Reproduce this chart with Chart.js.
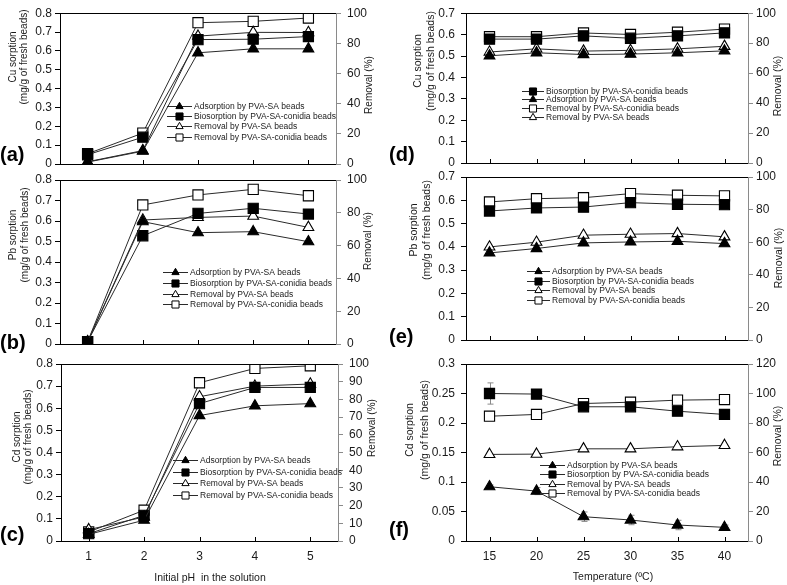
<!DOCTYPE html>
<html><head><meta charset="utf-8">
<script src="https://cdn.jsdelivr.net/npm/chart.js@4/dist/chart.umd.min.js"></script>
<style>
html,body{margin:0;padding:0;background:#fff;}
#wrap{position:relative;width:787px;height:585px;overflow:hidden;background:#fff;}
#wrap canvas{position:absolute;left:0;top:0;}
</style></head><body><div id="wrap">
<canvas id="pa" width="787" height="585"></canvas>
<canvas id="pb" width="787" height="585"></canvas>
<canvas id="pc" width="787" height="585"></canvas>
<canvas id="pd" width="787" height="585"></canvas>
<canvas id="pe" width="787" height="585"></canvas>
<canvas id="pf" width="787" height="585"></canvas>
</div>
<script>
// ---- categories ----
const pHLabels = ['1','2','3','4','5'];
const tempLabels = ['15','20','25','30','35','40'];

// ---- (a) Cu vs pH ----
const cuPhAds    = [0.010, 0.068, 0.590, 0.611, 0.611];
const cuPhBio    = [0.049, 0.142, 0.660, 0.662, 0.676];
const cuPhRemSA  = [1.5, 8.9, 84.8, 87.3, 87.2];
const cuPhRemCon = [6.8, 20.5, 93.7, 94.6, 96.8];

// ---- (b) Pb vs pH ----
const pbPhAds    = [0.011, 0.597, 0.543, 0.548, 0.499];
const pbPhBio    = [0.011, 0.528, 0.637, 0.662, 0.634];
const pbPhRemSA  = [1.4, 75.6, 77.2, 78.0, 71.1];
const pbPhRemCon = [1.4, 84.8, 90.9, 94.3, 90.4];
const pbPhRemConErr = [0, 1.0, 1.0, 1.2, 1.0];

// ---- (c) Cd vs pH ----
const cdPhAds    = [0.030, 0.094, 0.567, 0.611, 0.621];
const cdPhBio    = [0.033, 0.116, 0.621, 0.694, 0.694];
const cdPhRemSA  = [6.4, 13.6, 81.5, 87.5, 88.7];
const cdPhRemCon = [5.1, 17.4, 89.4, 97.5, 99.0];

// ---- (d) Cu vs temperature ----
const cuTBio    = [0.579, 0.579, 0.594, 0.583, 0.594, 0.608];
const cuTAds    = [0.501, 0.515, 0.507, 0.509, 0.515, 0.524];
const cuTRemCon = [84.3, 84.3, 86.8, 85.8, 87.3, 89.4];
const cuTRemSA  = [74.1, 76.2, 74.7, 75.2, 76.2, 77.9];

// ---- (e) Pb vs temperature ----
const pbTAds    = [0.374, 0.393, 0.417, 0.421, 0.424, 0.414];
const pbTBio    = [0.554, 0.567, 0.571, 0.590, 0.583, 0.581];
const pbTRemSA  = [57.1, 60.0, 64.3, 64.9, 65.3, 63.3];
const pbTRemCon = [84.7, 86.7, 87.3, 89.8, 88.8, 88.4];

// ---- (f) Cd vs temperature ----
const cdTAds    = [0.092, 0.0846, 0.0412, 0.0356, 0.0271, 0.0231];
const cdTBio    = [0.250, 0.249, 0.2275, 0.2275, 0.220, 0.2145];
const cdTRemSA  = [58.7, 58.9, 62.5, 62.5, 63.9, 64.8];
const cdTRemCon = [84.6, 85.8, 93.2, 94.1, 95.5, 95.9];
const cdTAdsErr = [0.003, 0.006, 0.008, 0.008, 0.008, 0.004];
const cdTBioErr = [0.018, 0, 0, 0, 0, 0];

// ---- text ----
const xTitlePH = 'Initial pH  in the solution';
const xTitleT = 'Temperature (ºC)';
const rightTitle = 'Removal (%)';
const unitLine = '(mg/g of fresh beads)';

const FONT = "'Liberation Sans', Arial, Helvetica, sans-serif";
const LINE = '#2a2a2a';
const GRAY = '#8a8a8a';

const STYLE = {
  ads:    {label:'Adsorption by PVA-SA beads',          ps:'triangle', fill:'#000', axis:'y',  r:6.2, lr:4.2},
  bio:    {label:'Biosorption by PVA-SA-conidia beads', ps:'rect',     fill:'#000', axis:'y',  r:7.2, lr:5.0},
  remSA:  {label:'Removal by PVA-SA beads',             ps:'triangle', fill:'#fff', axis:'y1', r:6.2, lr:4.2},
  remCon: {label:'Removal by PVA-SA-conidia beads',     ps:'rect',     fill:'#fff', axis:'y1', r:7.2, lr:5.0}
};

const panels = [
 {id:'pa', labels:pHLabels, area:{l:60,t:6,r:336,b:164}, yMax:0.8, yStep:0.1, y1Max:100, y1Step:10,
  showX:false, metal:'Cu sorption', ltX:[13,24], ltY:57, rtX:369, rtY:85, tSize:10,
  lPad:3, rPad:6, letter:'(a)', letX:0, letY:155,
  legend:{x:167, y:106, dy:10.2, len:25},
  series:[['ads',cuPhAds],['bio',cuPhBio],['remSA',cuPhRemSA],['remCon',cuPhRemCon]]},
 {id:'pb', labels:pHLabels, area:{l:60,t:180,r:336,b:344}, yMax:0.8, yStep:0.1, y1Max:100, y1Step:10,
  showX:false, metal:'Pb sorption', ltX:[13,25], ltY:235, rtX:368, rtY:241, tSize:10,
  lPad:3, rPad:6, letter:'(b)', letX:0, letY:343,
  legend:{x:163, y:271.7, dy:10.9, len:25},
  series:[['ads',pbPhAds],['bio',pbPhBio],['remSA',pbPhRemSA],['remCon',pbPhRemCon,pbPhRemConErr]]},
 {id:'pc', labels:pHLabels, area:{l:61,t:364,r:338,b:541}, yMax:0.8, yStep:0.1, y1Max:100, y1Step:10,
  showX:true, xTitle:xTitlePH, xtX:210, xtY:578, metal:'Cd sorption', ltX:[17,28], ltY:437, rtX:372, rtY:428, tSize:10,
  lPad:3, rPad:6, letter:'(c)', letX:0, letY:535,
  legend:{x:173, y:460, dy:11.6, len:25},
  series:[['ads',cdPhAds],['bio',cdPhBio],['remSA',cdPhRemSA],['remCon',cdPhRemCon]]},
 {id:'pd', labels:tempLabels, area:{l:466,t:6,r:748,b:163}, yMax:0.7, yStep:0.1, y1Max:100, y1Step:10,
  showX:false, metal:'Cu sorption', ltX:[418,431], ltY:61, rtX:778, rtY:86, tSize:10.5,
  lPad:6, rPad:3, letter:'(d)', letX:389, letY:155,
  legend:{x:522, y:90.7, dy:8.7, len:22},
  series:[['bio',cuTBio],['ads',cuTAds],['remCon',cuTRemCon],['remSA',cuTRemSA]]},
 {id:'pe', labels:tempLabels, area:{l:466,t:177,r:748,b:340}, yMax:0.7, yStep:0.1, y1Max:100, y1Step:10,
  showX:false, metal:'Pb sorption', ltX:[414,427], ltY:230, rtX:779, rtY:258, tSize:10.5,
  lPad:6, rPad:3, letter:'(e)', letX:389, letY:337,
  legend:{x:527, y:270.7, dy:9.8, len:23},
  series:[['ads',pbTAds],['bio',pbTBio],['remSA',pbTRemSA],['remCon',pbTRemCon]]},
 {id:'pf', labels:tempLabels, area:{l:466,t:364,r:748,b:541}, yMax:0.3, yStep:0.05, y1Max:120, y1Step:20,
  showX:true, xTitle:xTitleT, xtX:613, xtY:577, metal:'Cd sorption', ltX:[410,425], ltY:430, rtX:778, rtY:436, tSize:10.5,
  lPad:6, rPad:3, letter:'(f)', letX:389, letY:530,
  legend:{x:540, y:465, dy:9.4, len:25},
  series:[['ads',cdTAds,cdTAdsErr],['bio',cdTBio,cdTBioErr],['remSA',cdTRemSA],['remCon',cdTRemCon]]}
];
const panelById = {};
panels.forEach(p => panelById[p.id] = p);

const YW = 45, Y1W = 45, XH = 30;

const annot = {
  id: 'annot',
  beforeDatasetsDraw(chart) {
    const ctx = chart.ctx;
    ctx.save();
    ctx.strokeStyle = GRAY; ctx.lineWidth = 1;
    chart.data.datasets.forEach((ds) => {
      if (!ds.errorBars) return;
      const ys = chart.scales[ds.yAxisID], xs = chart.scales.x;
      ds.errorBars.forEach((e, i) => {
        if (!e) return;
        const x = Math.round(xs.getPixelForValue(i)) + 0.5;
        const y0 = ys.getPixelForValue(ds.data[i] - e), y1 = ys.getPixelForValue(ds.data[i] + e);
        ctx.beginPath();
        ctx.moveTo(x, y0); ctx.lineTo(x, y1);
        ctx.moveTo(x - 3, y0); ctx.lineTo(x + 3, y0);
        ctx.moveTo(x - 3, y1); ctx.lineTo(x + 3, y1);
        ctx.stroke();
      });
    });
    ctx.restore();
  },
  afterDraw(chart) {
    const P = panelById[chart.canvas.id];
    const ctx = chart.ctx, a = chart.chartArea, xs = chart.scales.x;
    ctx.save();
    // top frame line
    ctx.strokeStyle = '#000'; ctx.lineWidth = 1;
    ctx.beginPath(); ctx.moveTo(a.left, Math.round(a.top) + 0.5); ctx.lineTo(a.right, Math.round(a.top) + 0.5); ctx.stroke();
    // inward category ticks
    chart.data.labels.forEach((l, i) => {
      const x = Math.round(xs.getPixelForValue(i)) + 0.5;
      ctx.beginPath(); ctx.moveTo(x, a.bottom); ctx.lineTo(x, a.bottom - 4); ctx.stroke();
    });
    // axis titles
    ctx.fillStyle = '#1a1a1a';
    ctx.textAlign = 'center'; ctx.textBaseline = 'middle';
    ctx.font = P.tSize + 'px ' + FONT;
    [[P.metal, P.ltX[0]], [unitLine, P.ltX[1]]].forEach(([t, x]) => {
      ctx.save(); ctx.translate(x, P.ltY); ctx.rotate(-Math.PI / 2); ctx.fillText(t, 0, 0); ctx.restore();
    });
    ctx.save(); ctx.translate(P.rtX, P.rtY); ctx.rotate(-Math.PI / 2); ctx.fillText(rightTitle, 0, 0); ctx.restore();
    if (P.xTitle) { ctx.font = '10.5px ' + FONT; ctx.fillText(P.xTitle, P.xtX, P.xtY); }
    // panel letter
    ctx.font = 'bold 20px ' + FONT; ctx.textAlign = 'left'; ctx.fillStyle = '#000';
    ctx.fillText(P.letter, P.letX, P.letY);
    // legend
    const L = P.legend;
    ctx.font = '8.5px ' + FONT;
    chart.data.datasets.forEach((ds, i) => {
      const y = Math.round(L.y + i * L.dy) + 0.5;
      ctx.strokeStyle = ds.borderColor; ctx.lineWidth = 1;
      ctx.beginPath(); ctx.moveTo(L.x, y); ctx.lineTo(L.x + L.len, y); ctx.stroke();
      ctx.fillStyle = ds.pointBackgroundColor; ctx.strokeStyle = ds.pointBorderColor;
      Chart.helpers.drawPoint(ctx, {pointStyle: ds.pointStyle, rotation: 0, radius: ds.legendRadius, borderWidth: 1}, L.x + L.len / 2, y);
      ctx.fillStyle = '#1a1a1a'; ctx.textAlign = 'left'; ctx.textBaseline = 'middle';
      ctx.fillText(ds.label, L.x + L.len + 2, y);
    });
    ctx.restore();
  }
};

const fmt = v => String(+Number(v).toFixed(2));

panels.forEach(P => {
  const datasets = P.series.map(([key, arr, err]) => {
    const s = STYLE[key];
    return {
      label: s.label, data: arr, yAxisID: s.axis, errorBars: err || null,
      borderColor: LINE, borderWidth: 1, tension: 0, fill: false,
      pointStyle: s.ps, pointRadius: s.r, pointHoverRadius: s.r,
      pointBackgroundColor: s.fill, pointBorderColor: '#000', pointBorderWidth: 1.1,
      legendRadius: s.lr
    };
  });
  new Chart(document.getElementById(P.id), {
    type: 'line',
    data: { labels: P.labels, datasets },
    options: {
      responsive: false, animation: false, events: [],
      layout: { autoPadding: false, padding: { left: P.area.l - YW, right: 787 - P.area.r - Y1W, top: P.area.t, bottom: 585 - P.area.b - XH } },
      plugins: { legend: { display: false }, tooltip: { enabled: false } },
      scales: {
        x: {
          type: 'category', offset: true,
          grid: { display: false, drawTicks: false },
          border: { display: true, color: '#000', width: 1 },
          ticks: { display: P.showX, padding: 8, color: '#1a1a1a', font: { family: FONT, size: 12 }, maxRotation: 0 },
          afterFit: s => { s.height = XH; }
        },
        y: {
          position: 'left', min: 0, max: P.yMax,
          grid: { display: true, drawOnChartArea: false, drawTicks: true, tickLength: 5, color: '#000' },
          border: { display: true, color: '#000', width: 1 },
          ticks: { stepSize: P.yStep, padding: P.lPad, color: '#1a1a1a', font: { family: FONT, size: 12 }, callback: fmt },
          afterFit: s => { s.width = YW; }
        },
        y1: {
          position: 'right', min: 0, max: P.y1Max,
          grid: { display: true, drawOnChartArea: false, drawTicks: true, tickLength: 5, color: GRAY },
          border: { display: true, color: GRAY, width: 1 },
          ticks: { stepSize: P.y1Step, padding: P.rPad, color: '#1a1a1a', font: { family: FONT, size: 12 }, callback: fmt },
          afterFit: s => { s.width = Y1W; }
        }
      }
    },
    plugins: [annot]
  });
});
</script>
</body></html>
